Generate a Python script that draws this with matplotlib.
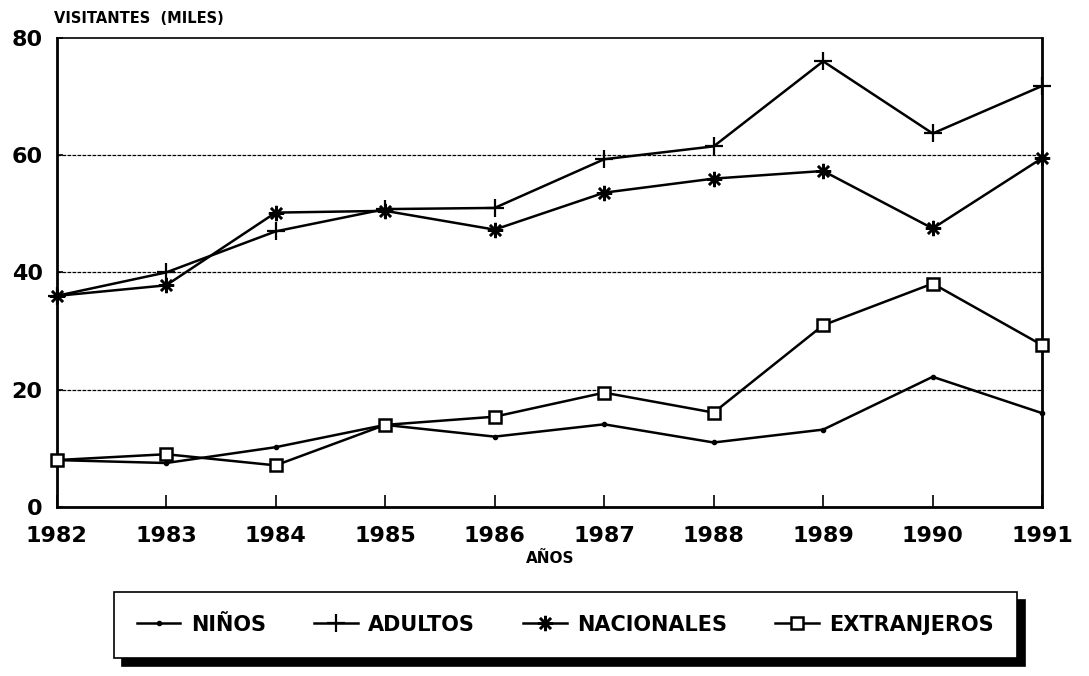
import matplotlib.pyplot as plt

years = [1982, 1983, 1984, 1985, 1986, 1987, 1988, 1989, 1990, 1991]
ninos = [8, 7.5, 10.2, 14, 12, 14.1, 11, 13.2, 22.2, 16]
adultos = [36, 40, 47, 50.8, 51, 59.3, 61.5, 76, 63.7, 71.8]
nacionales = [36, 37.8, 50.2, 50.5, 47.3, 53.6, 56, 57.3, 47.5, 59.5]
extranjeros = [8, 9, 7.1, 14, 15.4, 19.5, 16.1, 31, 38.1, 27.6]
series_names = ['NIÑOS', 'ADULTOS', 'NACIONALES', 'EXTRANJEROS']
y_ticks = [0, 20, 40, 60, 80]

plt.rcParams['font.family'] = ['DejaVu Sans']
plt.rcParams['font.weight'] = 'bold'

fig = plt.figure(figsize=(10.89, 6.76), dpi=100)
ax = fig.add_axes([0.052, 0.25, 0.905, 0.694])

lw = 1.8
common = dict(color='black', lw=lw, clip_on=False, zorder=3)
ax.plot(years, ninos, marker='.', markersize=6, label=series_names[0], **common)
ax.plot(years, adultos, marker='+', markersize=13, markeredgewidth=1.6,
        label=series_names[1], **common)
ax.plot(years, nacionales, marker=(8, 2, 0), markersize=11,
        markeredgewidth=1.8, label=series_names[2], **common)
ax.plot(years, extranjeros, marker='s', markersize=8, markerfacecolor='white',
        markeredgewidth=1.8, label=series_names[3], **common)

ax.set_xlim(years[0], years[-1])
ax.set_ylim(0, 80)
ax.set_xticks(years)
ax.set_yticks(y_ticks)
ax.tick_params(axis='x', direction='in', length=9, width=1.2, pad=14,
               labelsize=16)
ax.tick_params(axis='y', direction='in', length=4, width=1.2, pad=10,
               labelsize=16)
for lab in ax.get_xticklabels() + ax.get_yticklabels():
    lab.set_fontweight('bold')

for y in y_ticks[1:-1]:
    ax.axhline(y, color='black', lw=0.9, ls=(0, (3, 1)), zorder=0)

for side in ['left', 'right', 'bottom']:
    ax.spines[side].set_linewidth(2)
ax.spines['top'].set_linewidth(1.2)
ax.spines['top'].set_linestyle((0, (6, 1)))

fig.text(0.05, 0.973, 'VISITANTES  (MILES)', fontsize=10.5, fontweight='bold',
         ha='left', va='center')
fig.text(0.505, 0.174, 'AÑOS', fontsize=11, fontweight='bold',
         ha='center', va='center')

leg = fig.legend(loc='center', bbox_to_anchor=(0.519, 0.076), ncol=4,
                 frameon=True, fancybox=False, borderpad=1.1,
                 columnspacing=2.3, handlelength=2.1, handletextpad=0.5,
                 prop={'size': 15, 'weight': 'bold'},
                 shadow={'color': 'black', 'alpha': 1, 'ox': 6, 'oy': -6})
leg.get_frame().set_edgecolor('black')
leg.get_frame().set_linewidth(1.2)

fig.savefig('out.png', dpi=100)
